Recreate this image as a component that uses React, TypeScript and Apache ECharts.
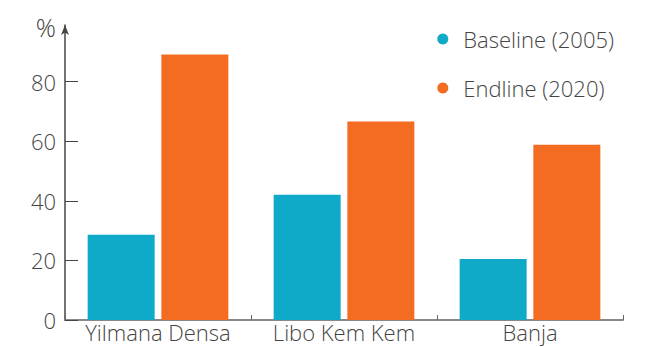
import React, { useEffect, useRef } from "react";
import * as echarts from "echarts";

const categories = ["Yilmana Densa", "Libo Kem Kem", "Banja"];
const baseline = [28.6, 42.0, 20.5];
const endline = [89.1, 66.6, 58.8];
const seriesNames = ["Baseline (2005)", "Endline (2020)"];
const yTicks = [0, 20, 40, 60, 80];

export default function App() {
  const ref = useRef<HTMLDivElement>(null);
  useEffect(() => {
    const chart = echarts.init(ref.current!, null, { renderer: "svg" });
    const font = "'Open Sans', 'Noto Sans', sans-serif";
    const txt = { fontFamily: font, fontSize: 22, fontWeight: 300, color: "#444" };
    chart.setOption({
      animation: false,
      grid: { left: 65, right: 24, top: 25, bottom: 27, containLabel: false },
      legend: {
        orient: "vertical",
        right: 28,
        top: 23,
        icon: "circle",
        itemWidth: 11,
        itemHeight: 11,
        itemGap: 27,
        textStyle: { ...txt, padding: [0, 0, 0, 10] },
        data: seriesNames,
      },
      xAxis: {
        type: "category",
        data: categories,
        axisLine: { lineStyle: { color: "#888", width: 2 } },
        axisTick: { show: true, inside: true, length: 5, lineStyle: { color: "#666" } },
        axisLabel: { ...txt, fontSize: 22, margin: 1, lineHeight: 22, interval: 0 },
      },
      yAxis: {
        type: "value",
        min: 0,
        max: 99,
        interval: 20,
        name: "%",
        nameLocation: "end",
        nameGap: -14,
        nameTextStyle: { ...txt, fontSize: 25, align: "right", padding: [0, 9, 0, 0] },
        axisLine: { show: true, symbol: ["none", "arrow"], symbolSize: [6, 10], lineStyle: { color: "#444", width: 1.5 } },
        axisTick: { show: true, inside: true, length: 13, lineStyle: { color: "#444" } },
        splitLine: { show: false },
        axisLabel: {
          ...txt,
          margin: 9,
          showMaxLabel: false,
          formatter: (v: number) => (yTicks.includes(v) ? String(v) : ""),
        },
      },
      series: [
        {
          name: seriesNames[0],
          type: "bar",
          data: baseline,
          itemStyle: { color: "#0eaac8" },
          barWidth: 67,
          barGap: "10%",
        },
        {
          name: seriesNames[1],
          type: "bar",
          data: endline,
          itemStyle: { color: "#f36c21" },
          barWidth: 67,
          barGap: "10%",
        },
      ],
    });
    return () => chart.dispose();
  }, []);
  return <div ref={ref} style={{ width: 647, height: 347, position: "absolute", left: 0, top: 0 }} />;
}
